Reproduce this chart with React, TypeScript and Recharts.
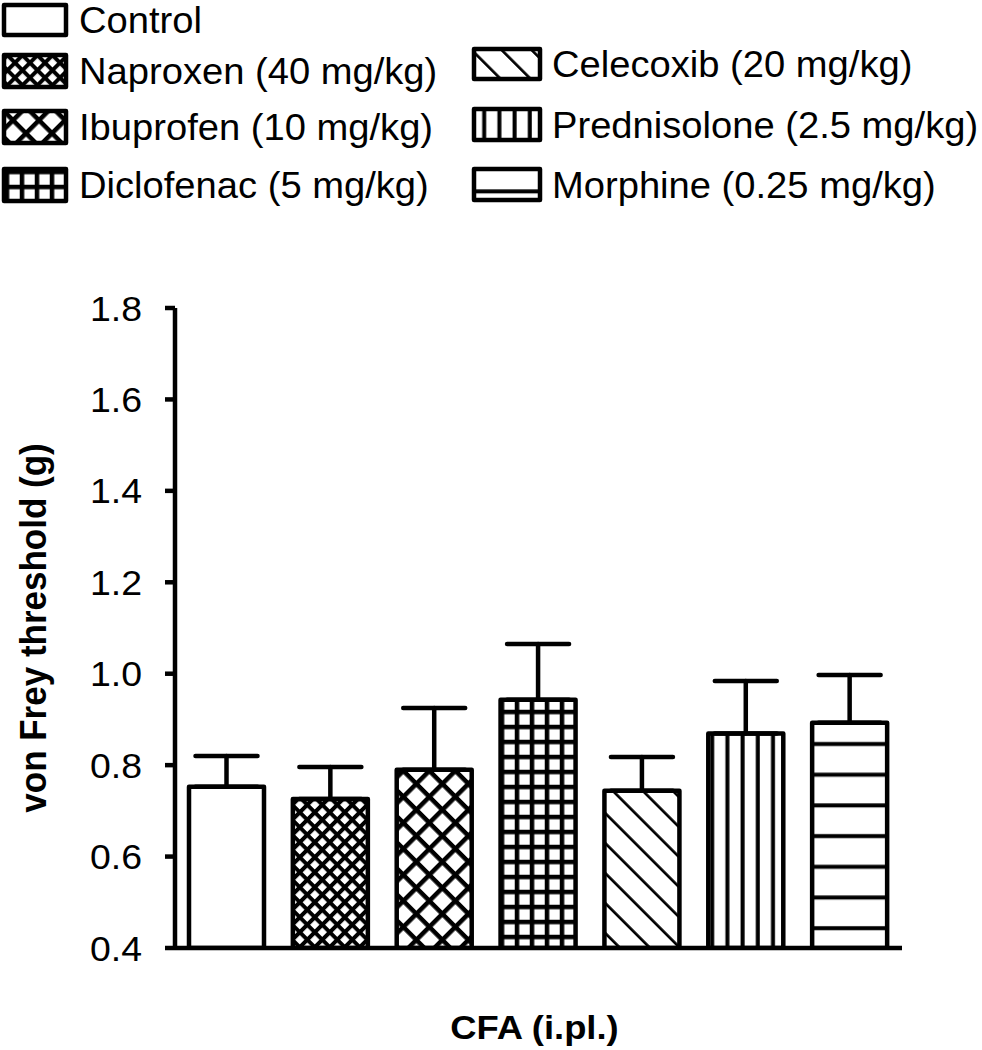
import React from 'react';
import { BarChart, Bar, Cell, XAxis, YAxis, ErrorBar } from 'recharts';

// treatment groups, CFA-induced inflammation
const groups = [
  'Control',
  'Naproxen (40 mg/kg)',
  'Ibuprofen (10 mg/kg)',
  'Diclofenac (5 mg/kg)',
  'Celecoxib (20 mg/kg)',
  'Prednisolone (2.5 mg/kg)',
  'Morphine (0.25 mg/kg)',
];
const means = [0.753, 0.726, 0.790, 0.943, 0.744, 0.869, 0.893];
const sems = [0.067, 0.070, 0.135, 0.122, 0.074, 0.115, 0.104];
const yTicks = [0.4, 0.6, 0.8, 1.0, 1.2, 1.4, 1.6, 1.8];
const patternIds = ['', 'naproxen', 'ibuprofen', 'diclofenac', 'celecoxib', 'prednisolone', 'morphine'];

const FONT = '"Liberation Sans", Arial, Helvetica, sans-serif';
const STRETCH = 1.07;
const LINE = 4.5;

const data = groups.map((g, i) => ({ name: g, mean: means[i], err: [0, sems[i]] }));

const fillFor = (i: number) => (patternIds[i] ? `url(#${patternIds[i]})` : '#ffffff');

// hatch patterns shared by bars and legend swatches
const Patterns = () => (
  <defs>
    <pattern id="naproxen" width={10.6} height={10.6} patternUnits="userSpaceOnUse" patternTransform="rotate(45)">
      <rect width={10.6} height={10.6} fill="#fff" />
      <rect x={0} y={0} width={10.6} height={4} fill="#000" />
      <rect x={0} y={0} width={4} height={10.6} fill="#000" />
    </pattern>
    <pattern id="ibuprofen" width={18.4} height={18.4} patternUnits="userSpaceOnUse" patternTransform="rotate(45)">
      <rect width={18.4} height={18.4} fill="#fff" />
      <rect x={0} y={0} width={18.4} height={4.5} fill="#000" />
      <rect x={0} y={0} width={4.5} height={18.4} fill="#000" />
    </pattern>
    <pattern id="diclofenac" width={15} height={15} patternUnits="userSpaceOnUse" patternTransform="translate(4.75,4.75)">
      <rect width={15} height={15} fill="#fff" />
      <rect x={0} y={0} width={15} height={4.5} fill="#000" />
      <rect x={0} y={0} width={4.5} height={15} fill="#000" />
    </pattern>
    <pattern id="celecoxib" width={21.2} height={21.2} patternUnits="userSpaceOnUse" patternTransform="rotate(45)">
      <rect width={21.2} height={21.2} fill="#fff" />
      <rect x={0} y={18.5} width={21.2} height={4} fill="#000" />
    </pattern>
    <pattern id="prednisolone" width={15.2} height={15.2} patternUnits="userSpaceOnUse">
      <rect width={15.2} height={15.2} fill="#fff" />
      <rect x={11} y={0} width={4} height={15.2} fill="#000" />
    </pattern>
    <pattern id="morphine" width={30.7} height={30.7} patternUnits="userSpaceOnUse">
      <rect width={30.7} height={30.7} fill="#fff" />
      <rect x={0} y={5.2} width={30.7} height={4} fill="#000" />
    </pattern>
  </defs>
);

const YTick = (props: any) => {
  const { x, y, payload } = props;
  return (
    <g transform={`translate(${x},${y})`}>
      <text transform={`scale(${STRETCH},1)`} textAnchor="end" dy="0.36em" fontSize={35} fontFamily={FONT} fill="#000">
        {Number(payload.value).toFixed(1)}
      </text>
    </g>
  );
};

const YTitle = (props: any) => {
  const vb = props.viewBox || { x: 0, y: 308, width: 175, height: 640 };
  const cx = vb.x + 46;
  const cy = vb.y + vb.height / 2;
  return (
    <text
      transform={`translate(${cx},${cy}) scale(${STRETCH},1) rotate(-90)`}
      textAnchor="middle"
      fontSize={35}
      fontWeight="bold"
      fontFamily={FONT}
      fill="#000"
    >
      von Frey threshold (g)
    </text>
  );
};

const XTitle = (props: any) => {
  const vb = props.viewBox || { x: 175, y: 948, width: 727, height: 102 };
  const cx = vb.x + vb.width / 2 - 4;
  const cy = vb.y + 91;
  return (
    <text
      transform={`translate(${cx},${cy}) scale(${STRETCH},1)`}
      textAnchor="middle"
      fontSize={34}
      fontWeight="bold"
      fontFamily={FONT}
      fill="#000"
    >
      CFA (i.pl.)
    </text>
  );
};

// legend layout: [column x, box top, box bottom]
const legendRows: Array<[number, number, number]> = [
  [2, 3, 37],
  [2, 53, 89],
  [2, 109, 145],
  [2, 167, 203],
  [472, 47, 81],
  [472, 107, 142],
  [472, 167, 202],
];

const LegendBlock = () => (
  <svg width={982} height={215} style={{ position: 'absolute', left: 0, top: 0 }}>
    {groups.map((g, i) => {
      const [x0, top, bottom] = legendRows[i];
      const mid = (top + bottom) / 2;
      return (
        <g key={g}>
          <rect
            x={x0 + 2}
            y={top + 2}
            width={66 - 4 + (x0 > 100 ? 4 : 0)}
            height={bottom - top - 4}
            fill={fillFor(i)}
            stroke="#000"
            strokeWidth={LINE}
            strokeLinejoin="round"
          />
          <text
            transform={`translate(${x0 + (x0 > 100 ? 80 : 77)},${mid + 13}) scale(1.06,1)`}
            fontSize={36}
            fontFamily={FONT}
            fill="#000"
          >
            {g}
          </text>
        </g>
      );
    })}
  </svg>
);

export default function App() {
  return (
    <div style={{ position: 'absolute', left: 0, top: 0, width: 982, height: 1050, background: '#fff' }}>
      <BarChart
        width={982}
        height={1050}
        data={data}
        margin={{ top: 308, right: 80, bottom: 0, left: 0 }}
        barCategoryGap="14%"
      >
        <Patterns />
        <XAxis
          dataKey="name"
          height={102}
          tick={false}
          tickLine={false}
          axisLine={{ stroke: '#000', strokeWidth: LINE }}
          label={<XTitle />}
        />
        <YAxis
          width={175}
          domain={[0.4, 1.8]}
          ticks={yTicks}
          interval={0}
          allowDataOverflow
          tickSize={10}
          tickMargin={23}
          tick={<YTick />}
          tickLine={{ stroke: '#000', strokeWidth: LINE }}
          axisLine={{ stroke: '#000', strokeWidth: LINE }}
          label={<YTitle />}
        />
        <Bar dataKey="mean" barSize={75} stroke="#000" strokeWidth={LINE} strokeLinejoin="round" isAnimationActive={false}>
          {data.map((d, i) => (
            <Cell key={d.name} fill={fillFor(i)} />
          ))}
          <ErrorBar dataKey="err" direction="y" width={31} stroke="#000" strokeWidth={LINE} strokeLinecap="round" isAnimationActive={false} />
        </Bar>
      </BarChart>
      <LegendBlock />
    </div>
  );
}
